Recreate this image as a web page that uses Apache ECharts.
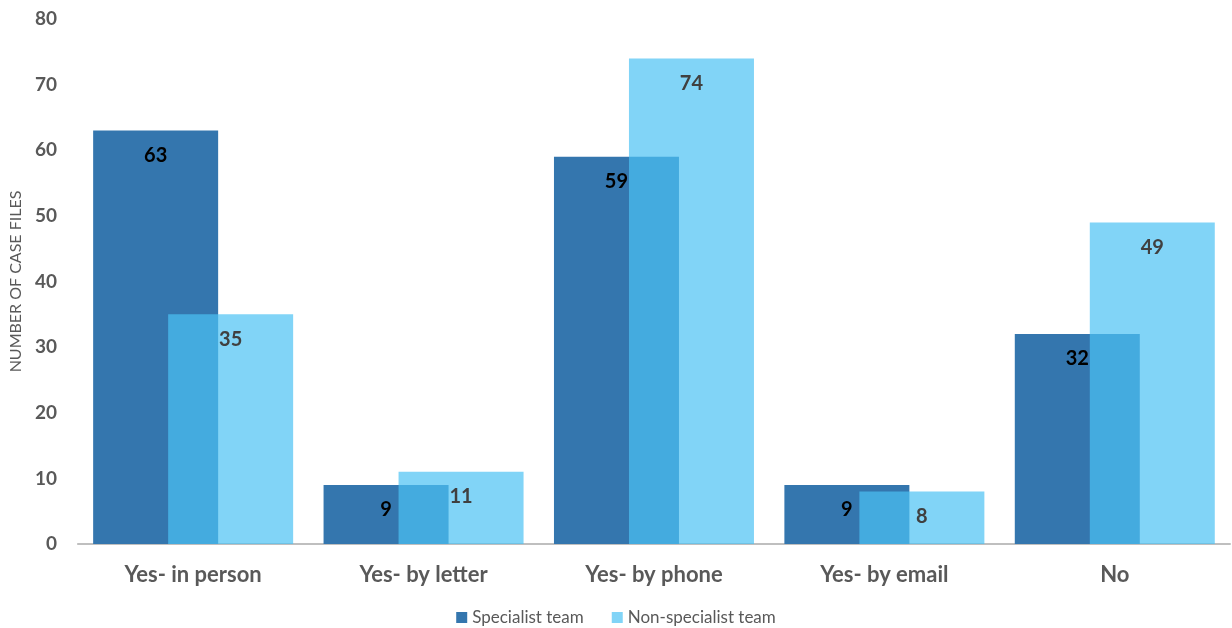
<!DOCTYPE html>
<html>
<head>
<meta charset="utf-8">
<script src="https://cdn.jsdelivr.net/npm/echarts@6/dist/echarts.min.js"></script>
<style>
  html, body { margin: 0; padding: 0; background: #fff; }
  #chart { width: 1232px; height: 628px; }
</style>
</head>
<body>
<div id="chart"></div>
<script>
// Contact method recorded in case files, by team type
const categories = ['Yes- in person', 'Yes- by letter', 'Yes- by phone', 'Yes- by email', 'No'];
const specialist = [63, 9, 59, 9, 32];
const nonSpecialist = [35, 11, 74, 8, 49];
const seriesNames = ['Specialist team', 'Non-specialist team'];
const yAxisName = 'NUMBER OF CASE FILES';

const FONT = 'Lato, "Open Sans", sans-serif';
const GREY = '#595959';

const chart = echarts.init(document.getElementById('chart'), null, { renderer: 'canvas' });

chart.setOption({
  animation: false,
  textStyle: { fontFamily: FONT },
  grid: { left: 76, right: 2, top: 19, bottom: 84, containLabel: false },
  legend: {
    top: 607,
    left: 'center',
    padding: [2, 5],
    itemWidth: 11,
    itemHeight: 11,
    itemGap: 28,
    icon: 'rect',
    textStyle: { color: GREY, fontSize: 17, fontFamily: FONT },
    data: seriesNames
  },
  xAxis: {
    type: 'category',
    data: categories,
    axisLine: { lineStyle: { color: '#BFBFBF', width: 2 } },
    axisTick: { show: false },
    axisLabel: { color: GREY, fontSize: 22, fontWeight: 'bold', margin: 20, fontFamily: FONT }
  },
  yAxis: {
    type: 'value',
    min: 0,
    max: 80,
    interval: 10,
    name: yAxisName,
    nameLocation: 'middle',
    nameGap: 52,
    nameTextStyle: { color: GREY, fontSize: 16, fontFamily: FONT },
    axisLine: { show: false },
    axisTick: { show: false },
    splitLine: { show: false },
    axisLabel: { color: GREY, fontSize: 19, fontWeight: 'bold', margin: 21, fontFamily: FONT }
  },
  series: [
    {
      name: seriesNames[0],
      type: 'bar',
      data: specialist,
      barWidth: 125,
      barGap: '-40%',
      itemStyle: { color: '#3476AE' },
      label: {
        show: true,
        position: 'insideTop',
        distance: 15,
        color: '#000',
        fontSize: 20,
        fontWeight: 'bold',
        fontFamily: FONT
      }
    },
    {
      name: seriesNames[1],
      type: 'bar',
      data: nonSpecialist,
      barWidth: 125,
      itemStyle: { color: 'rgba(76,194,244,0.7)' },
      label: {
        show: true,
        position: 'insideTop',
        distance: 15,
        color: '#404040',
        fontSize: 20,
        fontWeight: 'bold',
        fontFamily: FONT
      }
    }
  ]
});
</script>
</body>
</html>
